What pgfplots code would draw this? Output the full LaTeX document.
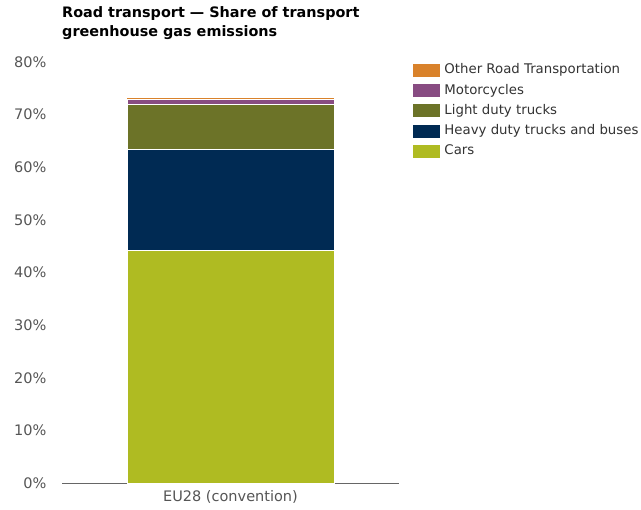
\documentclass[border=0pt]{standalone}
\usepackage{pgfplots}
\pgfplotsset{compat=1.18}
\usepackage{fontspec}
\setmainfont{DejaVu Sans}

\definecolor{cars}{HTML}{AFBB22}
\definecolor{heavy}{HTML}{002A53}
\definecolor{light}{HTML}{6C7328}
\definecolor{moto}{HTML}{884C82}
\definecolor{other}{HTML}{D9822B}
\definecolor{ticktxt}{HTML}{555555}

\begin{document}
\begin{tikzpicture}[x=1pt,y=1pt]
\path[use as bounding box] (0,0) rectangle (641,510);
\begin{axis}[
    at={(62pt,27pt)}, anchor=south west,
    scale only axis, width=337pt, height=421pt,
    ybar stacked, bar width=207pt,
    xmin=-1, xmax=1, ymin=0, ymax=80,
    xtick={0}, xticklabels={EU28 (convention)},
    ytick={0,10,...,80},
    yticklabel={\pgfmathprintnumber{\tick}\%},
    /pgf/number format/assume math mode=true,
    axis y line*=left, axis x line*=bottom,
    y axis line style={draw=none},
    x axis line style={draw=black!60, line width=0.8pt, -},
    tick style={draw=none},
    ticklabel style={font=\fontsize{14.5}{16}\selectfont, text=ticktxt},
    yticklabel style={xshift=-12pt},
    xticklabel style={yshift=-4pt},
    clip=false,
    legend style={at={(rel axis cs:1.032,1.001)}, anchor=north west, draw=none,
      font=\fontsize{13.3}{15}\selectfont, text=black!80,
      nodes={text height=9.5pt, text depth=2.5pt, inner ysep=0pt, inner xsep=3pt},
      row sep=7.3pt},
    legend cell align=left,
    reverse legend,
    legend image code/.code={\fill[#1,draw=none] (-1pt,-6.5pt) rectangle (26pt,6.5pt);},
]
\addplot[fill=cars, draw=white, line width=0.6pt] coordinates {(0,44.3)};
\addplot[fill=heavy, draw=white, line width=0.6pt] coordinates {(0,19.2)};
\addplot[fill=light, draw=white, line width=0.6pt] coordinates {(0,8.5)};
\addplot[fill=moto, draw=white, line width=0.6pt] coordinates {(0,0.9)};
\addplot[fill=other, draw=none] coordinates {(0,0.2)};
\legend{\hspace{1.5pt}Cars, \hspace{1.5pt}Heavy duty trucks and buses, \hspace{1.5pt}Light duty trucks, \hspace{1.5pt}Motorcycles, \hspace{1.5pt}Other Road Transportation}
\end{axis}
\node[anchor=north west, align=left, inner sep=0pt, font=\bfseries\fontsize{14.4}{19}\selectfont]
  at (62,504) {Road transport — Share of transport\\greenhouse gas emissions};
\end{tikzpicture}
\end{document}
